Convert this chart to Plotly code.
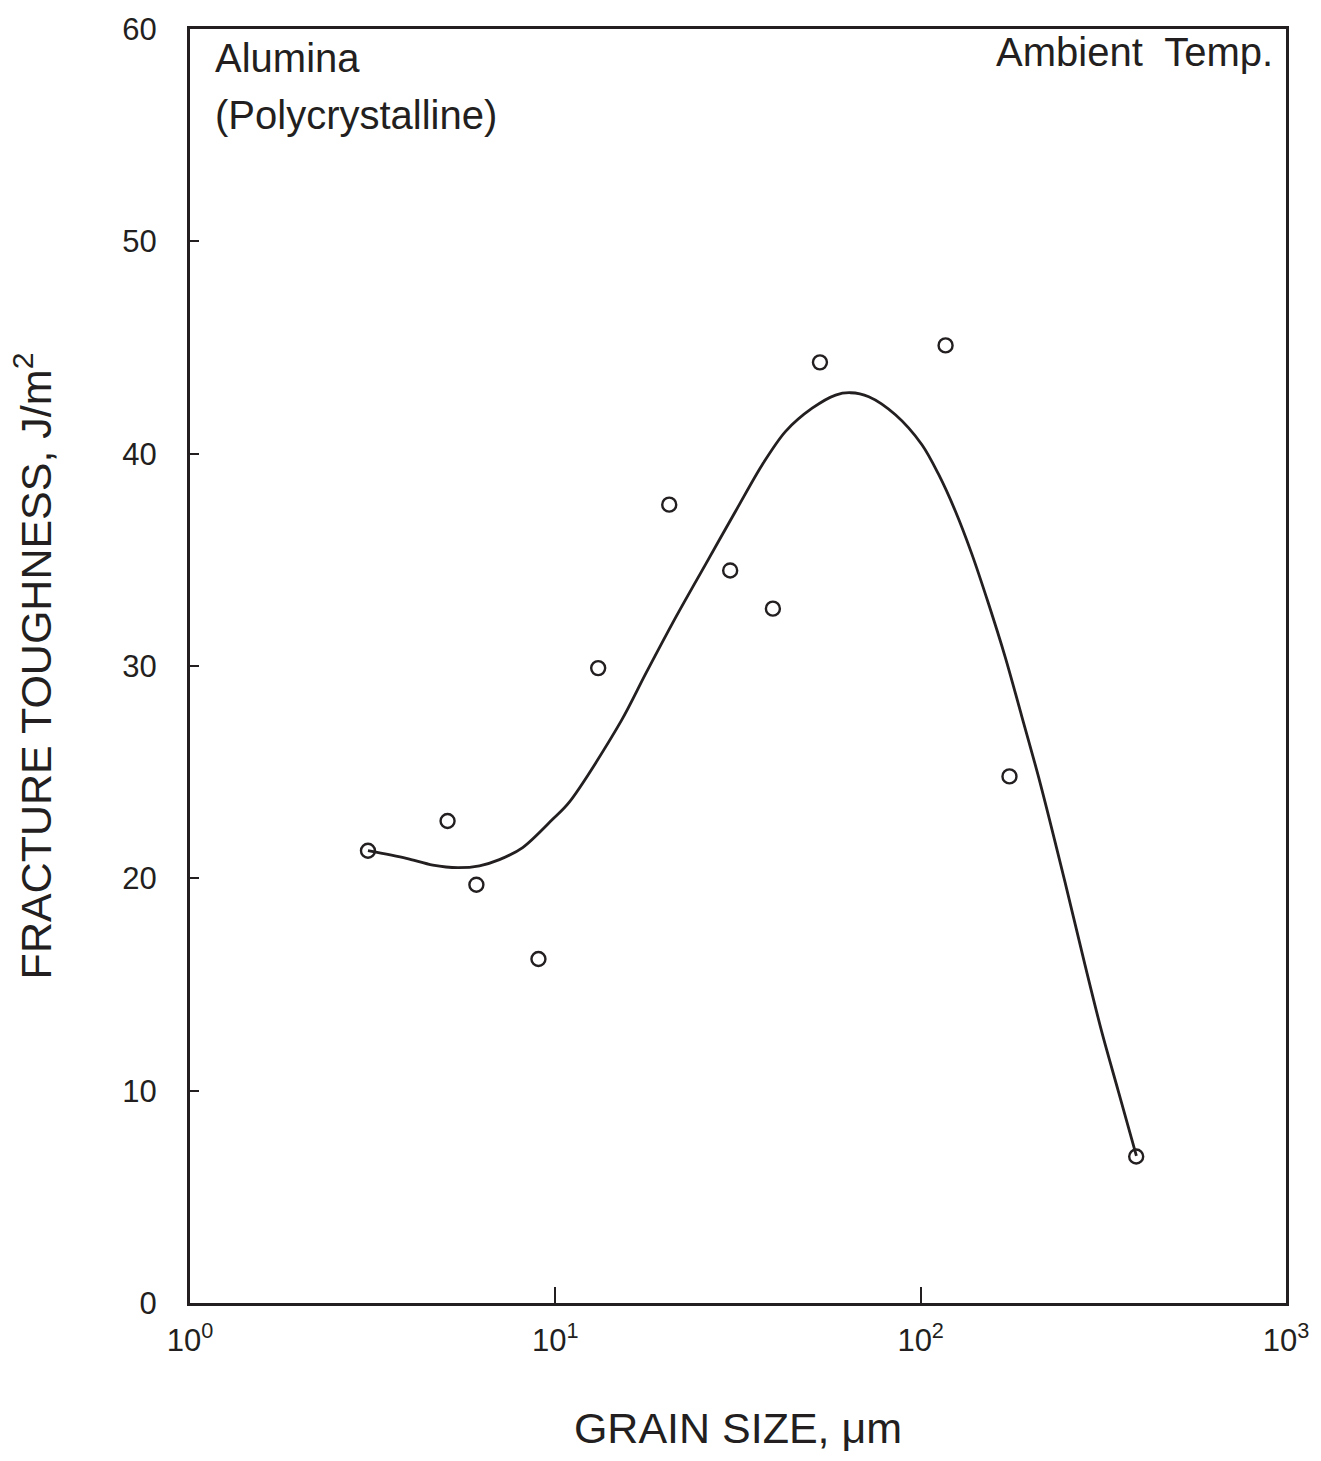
import plotly.graph_objects as go

# Measured data points (grain size in um, fracture toughness J/m^2)
grain_size = [3.07, 5.07, 6.08, 8.99, 13.1, 20.5, 30.1, 39.4, 53.0, 117.0, 175.0, 389.0]
toughness = [21.3, 22.7, 19.7, 16.2, 29.9, 37.6, 34.5, 32.7, 44.3, 45.1, 24.8, 6.9]

# Fitted curve
curve_x = [3.07, 3.91, 4.62, 5.41, 6.20, 7.03, 8.14, 9.83, 10.92, 15.12, 17.69,
           21.37, 25.80, 31.17, 36.85, 42.69, 50.47, 58.48, 64.27, 72.1,
           85.3, 100.8, 112.0, 124.4, 138.1, 153.4, 170.3, 189.2, 212.3, 248.5,
           281.8, 312.9, 347.5, 389.5]
curve_y = [21.30, 20.94, 20.62, 20.50, 20.59, 20.88, 21.45, 22.78, 23.59, 27.39, 29.65,
           32.30, 34.80, 37.30, 39.48, 41.05, 42.14, 42.76, 42.87, 42.68,
           41.83, 40.42, 39.02, 37.30, 35.27, 32.93, 30.43, 27.62, 24.50, 19.81,
           15.91, 12.79, 9.98, 6.93]

x_tickvals = [1, 10, 100, 1000]
x_ticktext = ["10<sup>0</sup>", "10<sup>1</sup>", "10<sup>2</sup>", "10<sup>3</sup>"]
y_tickvals = [0, 10, 20, 30, 40, 50, 60]

INK = "#231f20"
FONT = "Liberation Sans, Arial, sans-serif"

fig = go.Figure()
fig.add_trace(go.Scatter(
    x=curve_x, y=curve_y, mode="lines",
    line=dict(color=INK, width=2.8, shape="spline", smoothing=0.9),
    showlegend=False, hoverinfo="skip"))
fig.add_trace(go.Scatter(
    x=grain_size, y=toughness, mode="markers",
    marker=dict(symbol="circle-open", size=14, color=INK, line=dict(width=2.4, color=INK)),
    showlegend=False))

fig.update_xaxes(
    type="log", range=[0, 3],
    tickvals=x_tickvals, ticktext=x_ticktext,
    ticks="inside", ticklen=16, tickwidth=2, tickcolor=INK,
    showline=True, linewidth=3, linecolor=INK, mirror=True,
    showgrid=False, zeroline=False,
    tickfont=dict(family=FONT, size=31, color=INK),
    ticklabelstandoff=8,
    title=dict(text="GRAIN SIZE, μm", font=dict(family=FONT, size=43, color=INK), standoff=56),
)
fig.update_yaxes(
    range=[0, 60],
    tickvals=y_tickvals,
    ticks="inside", ticklen=9, tickwidth=2, tickcolor=INK,
    showline=True, linewidth=3, linecolor=INK, mirror=True,
    showgrid=False, zeroline=False,
    tickfont=dict(family=FONT, size=31, color=INK),
    ticklabelstandoff=24,
    title=dict(text="FRACTURE TOUGHNESS, J/m<sup>2</sup>", font=dict(family=FONT, size=43, color=INK), standoff=58),
)

fig.add_annotation(x=0.021, y=0.996, xref="paper", yref="paper", xanchor="left", yanchor="top",
                   text="Alumina", showarrow=False, font=dict(family=FONT, size=40, color=INK))
fig.add_annotation(x=0.021, y=0.951, xref="paper", yref="paper", xanchor="left", yanchor="top",
                   text="(Polycrystalline)", showarrow=False, font=dict(family=FONT, size=40, color=INK))
fig.add_annotation(x=0.99, y=1.001, xref="paper", yref="paper", xanchor="right", yanchor="top",
                   text="Ambient  Temp.", showarrow=False, font=dict(family=FONT, size=40, color=INK))

fig.update_layout(
    width=1321, height=1461,
    margin=dict(l=190, r=33, t=22, b=158),
    paper_bgcolor="white", plot_bgcolor="white",
)

fig.write_html("out.html")
